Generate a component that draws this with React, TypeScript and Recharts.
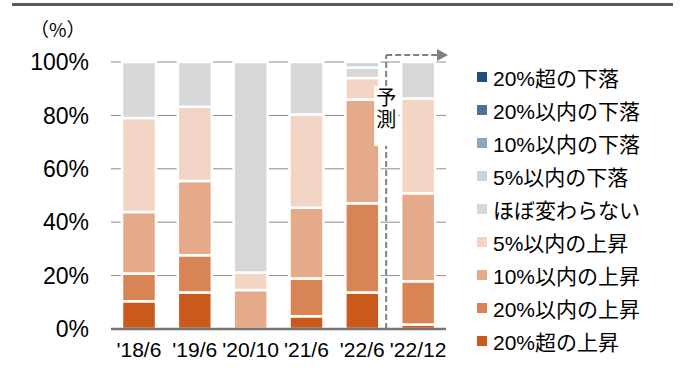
import { BarChart, Bar, XAxis, YAxis, CartesianGrid, Legend } from "recharts";

const FONT = "'Liberation Sans', Arial, 'Noto Sans CJK JP', sans-serif";

const periods = ["'18/6", "'19/6", "'20/10", "'21/6", "'22/6", "'22/12"];

// share of answers per band (%), bottom of the stack first
const riseOver20 = [10.4, 13.7, 0, 4.8, 13.7, 1.7];
const riseWithin20 = [10.4, 13.9, 0, 14.1, 33.4, 16.2];
const riseWithin10 = [23.0, 27.8, 14.6, 26.5, 38.9, 32.9];
const riseWithin5 = [35.2, 27.8, 6.6, 34.9, 8.0, 35.5];
const flat = [21.0, 16.8, 78.8, 19.7, 3.9, 13.7];
const fallWithin5 = [0, 0, 0, 0, 2.1, 0];
const fallWithin10 = [0, 0, 0, 0, 0, 0];
const fallWithin20 = [0, 0, 0, 0, 0, 0];
const fallOver20 = [0, 0, 0, 0, 0, 0];

const yTicks = [0, 20, 40, 60, 80, 100];

const SERIES = [
	{ key: "riseOver20", name: "20%超の上昇", color: "#c95a1b", values: riseOver20 },
	{ key: "riseWithin20", name: "20%以内の上昇", color: "#d98455", values: riseWithin20 },
	{ key: "riseWithin10", name: "10%以内の上昇", color: "#e5aa89", values: riseWithin10 },
	{ key: "riseWithin5", name: "5%以内の上昇", color: "#f2d5c4", values: riseWithin5 },
	{ key: "flat", name: "ほぼ変わらない", color: "#d7d7d7", values: flat },
	{ key: "fallWithin5", name: "5%以内の下落", color: "#c6d3e1", values: fallWithin5 },
	{ key: "fallWithin10", name: "10%以内の下落", color: "#8ea6c2", values: fallWithin10 },
	{ key: "fallWithin20", name: "20%以内の下落", color: "#4f729b", values: fallWithin20 },
	{ key: "fallOver20", name: "20%超の下落", color: "#1f4e80", values: fallOver20 },
];

const data = periods.map((p, i) => {
	const row: Record<string, string | number> = { period: p };
	for (const s of SERIES) row[s.key] = s.values[i];
	return row;
});

const W = 680;
const H = 374;
const PLOT_LEFT = 111;
const PLOT_RIGHT = 446;
const PLOT_TOP = 62;
const PLOT_BOTTOM = 329;
const X_AXIS_H = 30;
const BAND = (PLOT_RIGHT - PLOT_LEFT) / periods.length;

function LegendList() {
	return (
		<div style={{ fontFamily: FONT, fontSize: 21, color: "#000" }}>
			{[...SERIES].reverse().map((s) => (
				<div
					key={s.key}
					style={{ display: "flex", alignItems: "center", height: 33, whiteSpace: "nowrap" }}
				>
					<span
						style={{ display: "inline-block", width: 10, height: 10, background: s.color, marginRight: 6 }}
					/>
					{s.name}
				</div>
			))}
		</div>
	);
}

// forecast marker between the last two periods
function ForecastArrow() {
	const x = PLOT_LEFT + BAND * 5 - 4;
	const yTop = 55;
	return (
		<g>
			<line x1={x} y1={PLOT_BOTTOM} x2={x} y2={yTop} stroke="#808080" strokeWidth={2} strokeDasharray="6 3" />
			<line x1={x} y1={yTop} x2={437} y2={yTop} stroke="#808080" strokeWidth={2} strokeDasharray="6 3" />
			<polygon points={`437,${yTop - 6} 448,${yTop} 437,${yTop + 6}`} fill="#808080" />
			<rect x={x - 12} y={86} width={24} height={60} fill="#fff" />
			<text x={x} y={105} textAnchor="middle" fontSize={20} fontFamily={FONT} fill="#000">
				予
			</text>
			<text x={x} y={127} textAnchor="middle" fontSize={20} fontFamily={FONT} fill="#000">
				測
			</text>
		</g>
	);
}

export default function App() {
	return (
		<div style={{ position: "absolute", left: 0, top: 0, width: W, height: H, background: "#fff" }}>
			<BarChart
				width={W}
				height={H}
				data={data}
				margin={{ top: PLOT_TOP, right: W - PLOT_RIGHT, bottom: H - PLOT_BOTTOM - X_AXIS_H, left: 0 }}
				barSize={34}
			>
				<CartesianGrid vertical={false} stroke="#8c8c8c" strokeWidth={1} />
				<XAxis
					dataKey="period"
					height={X_AXIS_H}
					interval={0}
					tickLine={false}
					tickSize={0}
					tickMargin={13}
					axisLine={{ stroke: "#767676", strokeWidth: 2.5 }}
					tick={{ fontSize: 21, fill: "#000", fontFamily: FONT }}
				/>
				<YAxis
					width={PLOT_LEFT}
					domain={[0, 100]}
					ticks={yTicks}
					tickFormatter={(v) => `${v}%`}
					axisLine={false}
					tickLine={false}
					tickSize={0}
					tickMargin={22}
					tick={{ fontSize: 23, fill: "#000", fontFamily: FONT }}
				/>
				<Legend
					layout="vertical"
					align="center"
					verticalAlign="middle"
					content={() => <LegendList />}
					wrapperStyle={{ left: 477, top: 60, width: 200 }}
				/>
				{SERIES.map((s) => (
					<Bar
						key={s.key}
						dataKey={s.key}
						name={s.name}
						stackId="a"
						fill={s.color}
						stroke="#fff"
						strokeWidth={2.5}
						isAnimationActive={false}
					/>
				))}
			</BarChart>
			<svg width={W} height={H} style={{ position: "absolute", left: 0, top: 0, pointerEvents: "none" }}>
				<line x1={12} y1={4.5} x2={673} y2={4.5} stroke="#595959" strokeWidth={3} />
				<text x={30} y={37} fontSize={19} fontFamily="'Noto Sans CJK JP', sans-serif" fill="#000">
					（%）
				</text>
				<ForecastArrow />
			</svg>
		</div>
	);
}
